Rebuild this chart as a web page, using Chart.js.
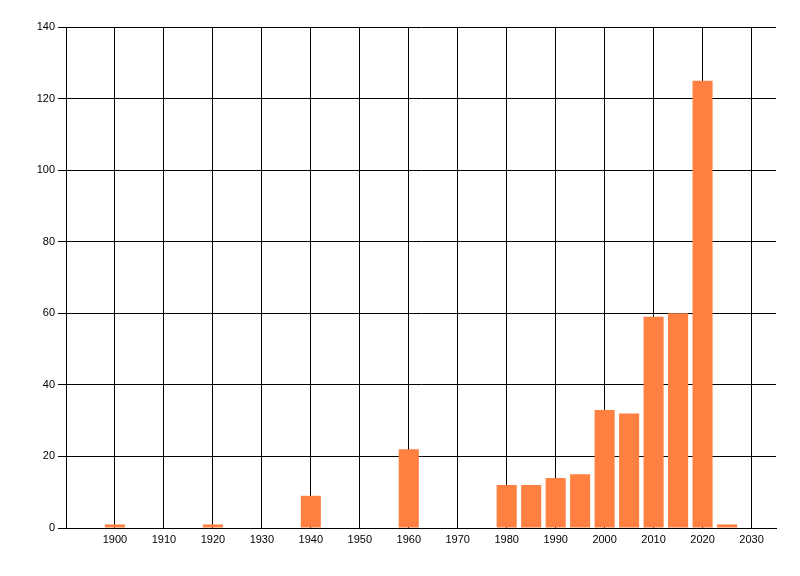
<!DOCTYPE html>
<html>
<head>
<meta charset="utf-8">
<script src="https://cdn.jsdelivr.net/npm/chart.js@4/dist/chart.umd.min.js"></script>
<style>
  html, body { margin: 0; padding: 0; background: #fff; }
  #wrap { width: 800px; height: 576px; }
</style>
</head>
<body>
<div id="wrap"><canvas id="chart" width="800" height="576"></canvas></div>
<script>
const years = [1900, 1920, 1940, 1960, 1980, 1985, 1990, 1995, 2000, 2005, 2010, 2015, 2020, 2025];
const counts = [1, 1, 9, 22, 12, 12, 14, 15, 33, 32, 59, 60, 125, 1];
const xTicks = [1900, 1910, 1920, 1930, 1940, 1950, 1960, 1970, 1980, 1990, 2000, 2010, 2020, 2030];
const yTicks = [0, 20, 40, 60, 80, 100, 120, 140];

const ctx = document.getElementById('chart').getContext('2d');

new Chart(ctx, {
  type: 'bar',
  data: {
    datasets: [{
      data: years.map((x, i) => ({ x: x, y: counts[i] })),
      backgroundColor: 'rgb(255, 128, 64)',
      borderWidth: 0,
      categoryPercentage: 1,
      barPercentage: 0.82
    }]
  },
  options: {
    responsive: false,
    animation: false,
    devicePixelRatio: 1,
    layout: { padding: { top: 27, right: 24, left: 0, bottom: 0 } },
    plugins: { legend: { display: false }, tooltip: { enabled: false } },
    scales: {
      x: {
        type: 'linear',
        min: 1890,
        max: 2035,
        offset: false,
        afterBuildTicks: (scale) => { scale.ticks = xTicks.map(v => ({ value: v })); },
        afterFit: (scale) => { scale.height = 48; },
        grid: { color: '#000', lineWidth: 1, drawTicks: false, offset: false },
        border: { color: '#000', width: 1 },
        ticks: {
          color: '#000',
          padding: 5,
          maxRotation: 0,
          autoSkip: false,
          font: { family: 'Liberation Sans', size: 11 },
          callback: (v) => String(v)
        }
      },
      y: {
        min: 0,
        max: 140,
        afterBuildTicks: (scale) => { scale.ticks = yTicks.map(v => ({ value: v })); },
        afterFit: (scale) => { scale.width = 66; },
        grid: { color: '#000', lineWidth: 1, tickLength: 8 },
        border: { color: '#000', width: 1 },
        ticks: {
          color: '#000',
          padding: 3,
          font: { family: 'Liberation Sans', size: 11 }
        }
      }
    }
  }
});
</script>
</body>
</html>
